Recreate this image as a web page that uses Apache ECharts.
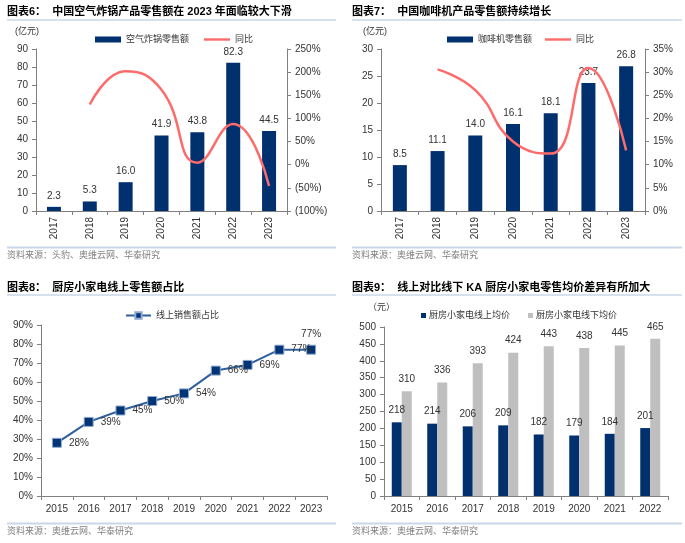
<!DOCTYPE html>
<html>
<head>
<meta charset="utf-8">
<script src="https://cdn.jsdelivr.net/npm/echarts@6/dist/echarts.min.js"></script>
<style>
html,body{margin:0;padding:0;background:#fff;}
#c{width:685px;height:543px;}
</style>
</head>
<body>
<div id="c"></div>
<script>
// ---- data ----
const years1 = ['2017','2018','2019','2020','2021','2022','2023'];
const airFryerSales = [2.3, 5.3, 16.0, 41.9, 43.8, 82.3, 44.5];
const airFryerYoY = [null, 130, 202, 162, 4.5, 88, -46];
const coffeeSales = [8.5, 11.1, 14.0, 16.1, 18.1, 23.7, 26.8];
const coffeeYoY = [null, 30.6, 26.1, 15.0, 12.4, 30.9, 13.1];
const years3 = ['2015','2016','2017','2018','2019','2020','2021','2022','2023'];
const onlineShare = [28, 39, 45, 50, 54, 66, 69, 77, 77];
const years4 = ['2015','2016','2017','2018','2019','2020','2021','2022'];
const onlinePrice = [218, 214, 206, 209, 182, 179, 184, 201];
const offlinePrice = [310, 336, 393, 424, 443, 438, 445, 465];

const titles = [
  '图表6：  中国空气炸锅产品零售额在 2023 年面临较大下滑',
  '图表7：  中国咖啡机产品零售额持续增长',
  '图表8：  厨房小家电线上零售额占比',
  '图表9：  线上对比线下 KA 厨房小家电零售均价差异有所加大'
];
const sources = [
  '资料来源：头豹、奥维云网、华泰研究',
  '资料来源：奥维云网、华泰研究',
  '资料来源：奥维云网、华泰研究',
  '资料来源：奥维云网、华泰研究'
];

// ---- styles ----
const FONT = '"Liberation Sans", "Noto Sans CJK SC", sans-serif';
const NAVY = '#00306E';
const RED = '#FF6B6B';
const GRAY = '#BFBFBF';
const AXIS = '#808080';
const TXT = '#333333';

const chart = echarts.init(document.getElementById('c'), null, {renderer: 'canvas'});

function catAxis(grid, data, rotate) {
  return {
    type: 'category', gridIndex: grid, data: data, boundaryGap: true,
    axisLine: {show: true, lineStyle: {color: AXIS, width: 1}},
    axisTick: {show: true, length: 4, alignWithLabel: false, lineStyle: {color: AXIS}},
    axisLabel: {rotate: rotate || 0, fontSize: 10, color: TXT, fontFamily: FONT, margin: rotate ? 6 : 8, interval: 0},
    splitLine: {show: false}
  };
}
function valAxis(grid, min, max, interval, pos, fmt) {
  return {
    type: 'value', gridIndex: grid, min: min, max: max, interval: interval, position: pos,
    axisLine: {show: true, lineStyle: {color: AXIS, width: 1}},
    axisTick: {show: true, length: 4, lineStyle: {color: AXIS}},
    axisLabel: {fontSize: 10, color: TXT, fontFamily: FONT, margin: 8, formatter: fmt},
    splitLine: {show: false}
  };
}
function pctParen(v) { return v < 0 ? '(' + (-v) + '%)' : v + '%'; }

function txt(x, y, s, size, opts) {
  opts = opts || {};
  return {
    type: 'text', x: x, y: y, silent: true,
    style: {
      text: s, fill: opts.fill || TXT,
      font: (opts.bold ? 'bold ' : '') + size + 'px ' + FONT,
      align: opts.align || 'left', verticalAlign: 'middle'
    }
  };
}
function hline(x1, x2, y, w, color) {
  return {type: 'line', silent: true, shape: {x1: x1, y1: y, x2: x2, y2: y},
    style: {stroke: color, lineWidth: w}};
}

const SEP = '#C9D7E8';
const legText = {fontSize: 9, color: TXT, fontFamily: FONT};
const LINE_ICON = 'path://M0 0H27V2.5H0Z';
function stripSuffix(n) { return n.replace(/_\d$/, ''); }

const option = {
  backgroundColor: '#ffffff',
  animation: false,
  grid: [
    {left: 36, top: 49, width: 251, height: 162},
    {left: 381, top: 49, width: 264, height: 162},
    {left: 41, top: 325, width: 286, height: 171},
    {left: 384, top: 327, width: 284, height: 169}
  ],
  xAxis: [
    catAxis(0, years1, 90),
    catAxis(1, years1, 90),
    catAxis(2, years3),
    catAxis(3, years4)
  ],
  yAxis: [
    valAxis(0, 0, 90, 10, 'left'),
    valAxis(0, -100, 250, 50, 'right', pctParen),
    valAxis(1, 0, 30, 5, 'left'),
    valAxis(1, 0, 35, 5, 'right', '{value}%'),
    valAxis(2, 0, 90, 10, 'left', '{value}%'),
    valAxis(3, 0, 500, 50, 'left')
  ],
  legend: [
    {left: 95, top: 35, padding: 0, itemWidth: 26, itemHeight: 6, itemGap: 15,
     symbolKeepAspect: true, textStyle: legText,
     data: [{name: '空气炸锅零售额', icon: 'rect'}, {name: '同比_1', icon: LINE_ICON}],
     formatter: stripSuffix},
    {left: 447, top: 35, padding: 0, itemWidth: 26, itemHeight: 6, itemGap: 13,
     symbolKeepAspect: true, textStyle: legText,
     data: [{name: '咖啡机零售额', icon: 'rect'}, {name: '同比_2', icon: LINE_ICON}],
     formatter: stripSuffix},
    {left: 125, top: 311, padding: 0, itemWidth: 25, itemHeight: 8, itemGap: 14,
     textStyle: legText,
     data: ['线上销售额占比']},
    {left: 421, top: 311, padding: 0, itemWidth: 5, itemHeight: 5, itemGap: 18,
     textStyle: {fontSize: 9, color: TXT, fontFamily: FONT, padding: [0, 0, 0, -2]},
     data: [{name: '厨房小家电线上均价', icon: 'rect'}, {name: '厨房小家电线下均价', icon: 'rect'}]}
  ],
  series: [
    {name: '空气炸锅零售额', type: 'bar', xAxisIndex: 0, yAxisIndex: 0, data: airFryerSales,
     barWidth: 14, itemStyle: {color: NAVY},
     label: {show: true, position: 'top', distance: 6, fontSize: 10, color: TXT, fontFamily: FONT,
       formatter: function (p) { return p.value.toFixed(1); }}},
    {name: '同比_1', type: 'line', xAxisIndex: 0, yAxisIndex: 1, data: airFryerYoY,
     smooth: true, symbol: 'none', lineStyle: {color: RED, width: 2.5}, itemStyle: {color: RED}, z: 5},
    {name: '咖啡机零售额', type: 'bar', xAxisIndex: 1, yAxisIndex: 2, data: coffeeSales,
     barWidth: 14, itemStyle: {color: NAVY},
     label: {show: true, position: 'top', distance: 6, fontSize: 10, color: TXT, fontFamily: FONT,
       formatter: function (p) { return p.value.toFixed(1); }}},
    {name: '同比_2', type: 'line', xAxisIndex: 1, yAxisIndex: 3, data: coffeeYoY,
     smooth: true, symbol: 'none', lineStyle: {color: RED, width: 2.5}, itemStyle: {color: RED}, z: 5},
    {name: '线上销售额占比', type: 'line', xAxisIndex: 2, yAxisIndex: 4,
     data: onlineShare.map(function (v, i) {
       return i === onlineShare.length - 1 ? {value: v, label: {position: 'top', distance: 5}} : v;
     }),
     symbol: 'rect', symbolSize: 9,
     itemStyle: {color: '#003476', borderColor: '#8FA8CC', borderWidth: 1},
     lineStyle: {color: '#2F5F9F', width: 2},
     label: {show: true, position: 'right', distance: 7, fontSize: 10, color: TXT, fontFamily: FONT,
       formatter: '{c}%'}},
    {name: '厨房小家电线上均价', type: 'bar', xAxisIndex: 3, yAxisIndex: 5, data: onlinePrice,
     barWidth: 10, barGap: '0%', itemStyle: {color: NAVY},
     label: {show: true, position: 'top', distance: 7, fontSize: 10, color: TXT, fontFamily: FONT}},
    {name: '厨房小家电线下均价', type: 'bar', xAxisIndex: 3, yAxisIndex: 5, data: offlinePrice,
     barWidth: 10, barGap: '0%', itemStyle: {color: GRAY},
     label: {show: true, position: 'top', distance: 7, fontSize: 10, color: TXT, fontFamily: FONT}}
  ],
  graphic: [
    txt(7, 12, titles[0], 11, {bold: true, fill: '#000'}),
    txt(352, 12, titles[1], 11, {bold: true, fill: '#000'}),
    txt(7, 288, titles[2], 11, {bold: true, fill: '#000'}),
    txt(352, 288, titles[3], 11, {bold: true, fill: '#000'}),
    hline(7, 336, 20, 1.5, SEP),
    hline(352, 682, 20, 1.5, SEP),
    hline(7, 336, 295, 1.5, SEP),
    hline(352, 682, 295, 1.5, SEP),
    hline(7, 336, 247.5, 2, SEP),
    hline(352, 682, 247.5, 2, SEP),
    hline(7, 336, 523.5, 2, SEP),
    hline(352, 682, 523.5, 2, SEP),
    txt(7, 256, sources[0], 9, {fill: '#7F7F7F'}),
    txt(352, 256, sources[1], 9, {fill: '#7F7F7F'}),
    txt(7, 532, sources[2], 9, {fill: '#7F7F7F'}),
    txt(352, 532, sources[3], 9, {fill: '#7F7F7F'}),
    txt(15, 32, '(亿元)', 9),
    txt(363, 32, '(亿元)', 9),
    txt(368, 308, '（元）', 9)
  ]
};
chart.setOption(option);
</script>
</body>
</html>
